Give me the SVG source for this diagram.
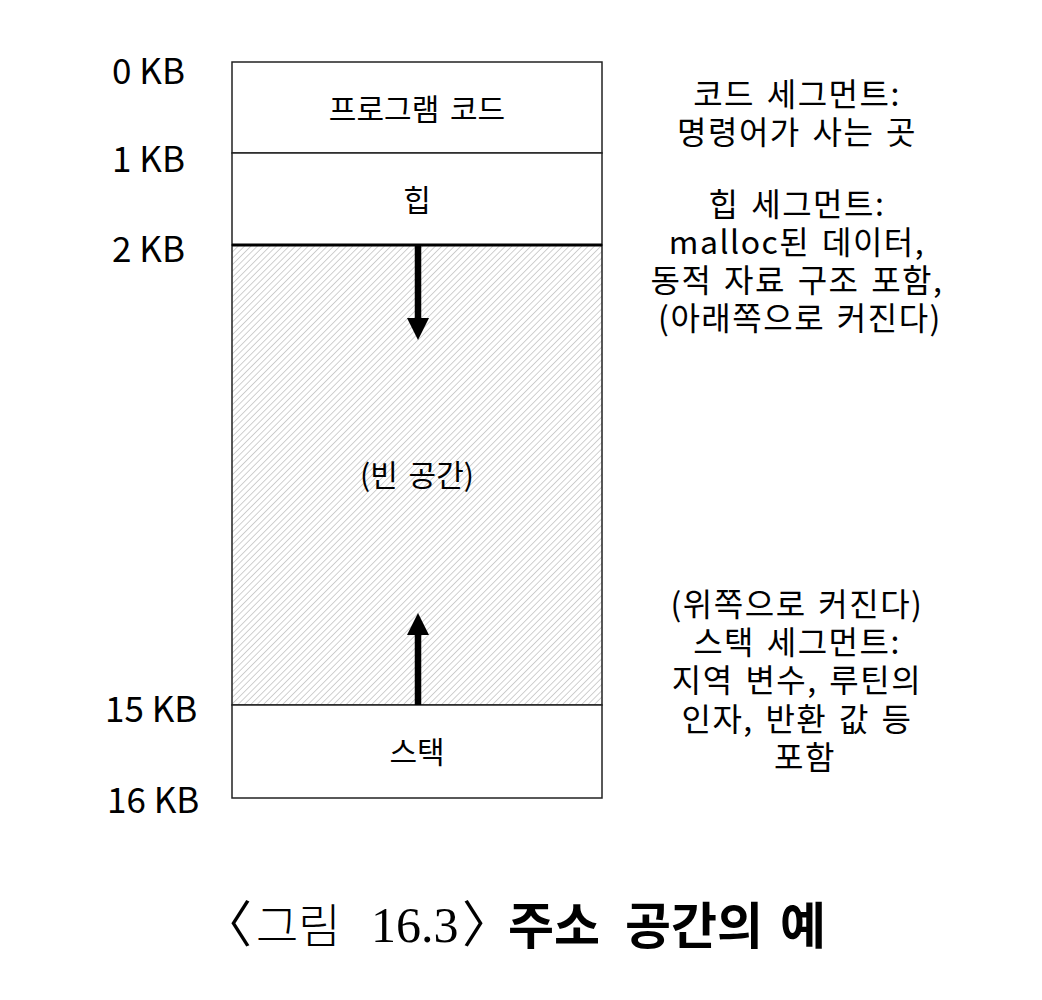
<svg xmlns="http://www.w3.org/2000/svg" width="1042" height="1000" viewBox="0 0 1042 1000">
<style>
.lbl{font-family:"Noto Sans CJK KR","Noto Sans",sans-serif;font-size:35px;fill:#000}
.box{font-family:"Noto Sans CJK KR",sans-serif;font-size:30px;fill:#000;text-anchor:middle;word-spacing:4px}
.desc{font-family:"Noto Sans CJK KR",sans-serif;font-size:32px;letter-spacing:1.5px;fill:#000;text-anchor:middle;word-spacing:3px}
.seg{fill:#fff;stroke:#222;stroke-width:1.5}
.cap{fill:#000}
</style>
<defs>
<pattern id="hatch" patternUnits="userSpaceOnUse" width="4.5" height="4.5" patternTransform="rotate(45)">
<rect width="4.5" height="4.5" fill="#fff"/>
<line x1="0" y1="0" x2="0" y2="4.5" stroke="#bdbdbd" stroke-width="1.4"/>
</pattern>
<marker id="ah" markerWidth="24" markerHeight="24" refX="0" refY="0" viewBox="-12 -12 24 24" orient="auto" markerUnits="userSpaceOnUse">
<path d="M-11,-11 L11,0 L-11,11 Z" fill="#000"/>
</marker>
</defs>
<rect width="1042" height="1000" fill="#fff"/>
<g id="code-seg"><rect class="seg" x="232" y="62" width="370" height="91"/><text class="box" x="417" y="120">프로그램 코드</text></g>
<g id="heap-seg"><rect class="seg" x="232" y="153" width="370" height="92"/><text class="box" x="417" y="211">힙</text></g>
<g id="free-seg"><rect x="232" y="245" width="370" height="460" fill="url(#hatch)" stroke="#222" stroke-width="1.5"/><text class="box" x="417" y="486">(빈 공간)</text></g>
<g id="stack-seg"><rect class="seg" x="232" y="705" width="370" height="93"/><text class="box" x="417" y="763">스택</text></g>
<line x1="232" y1="245" x2="602" y2="245" stroke="#000" stroke-width="3"/>
<g id="connectors">
<line x1="418" y1="245" x2="418" y2="329" stroke="#000" stroke-width="6.5" marker-end="url(#ah)"/>
<line x1="418" y1="705" x2="418" y2="624" stroke="#000" stroke-width="6.5" marker-end="url(#ah)"/>
</g>
<g id="addr-labels">
<text class="lbl" x="112" y="84">0 KB</text>
<text class="lbl" x="112" y="172">1 KB</text>
<text class="lbl" x="112" y="262">2 KB</text>
<text class="lbl" x="105" y="722">15 KB</text>
<text class="lbl" x="107" y="813">16 KB</text>
</g>
<g id="code-desc">
<text class="desc" x="797" y="106">코드 세그먼트:</text>
<text class="desc" x="797" y="144">명령어가 사는 곳</text>
</g>
<g id="heap-desc">
<text class="desc" x="797" y="216">힙 세그먼트:</text>
<text class="desc" x="797" y="254">malloc된 데이터,</text>
<text class="desc" x="797" y="292">동적 자료 구조 포함,</text>
<text class="desc" x="800" y="330">(아래쪽으로 커진다)</text>
</g>
<g id="stack-desc">
<text class="desc" x="797" y="616">(위쪽으로 커진다)</text>
<text class="desc" x="797" y="654">스택 세그먼트:</text>
<text class="desc" x="797" y="692">지역 변수, 루틴의</text>
<text class="desc" x="797" y="731">인자, 반환 값 등</text>
<text class="desc" x="805" y="769">포함</text>
</g>
<g id="caption">
<text class="cap" y="942" font-size="50" font-family="'Liberation Serif','Noto Sans CJK KR',serif"><tspan x="202">〈</tspan><tspan x="256" font-size="46" font-family="'Noto Sans CJK KR',sans-serif" font-weight="300">그림</tspan><tspan x="371">16.3</tspan><tspan x="462">〉</tspan></text>
<text class="cap" y="944" font-size="50" font-weight="bold" font-family="'Noto Sans CJK KR',sans-serif"><tspan x="508">주소</tspan><tspan x="625">공간의</tspan><tspan x="780">예</tspan></text>
</g>
</svg>
